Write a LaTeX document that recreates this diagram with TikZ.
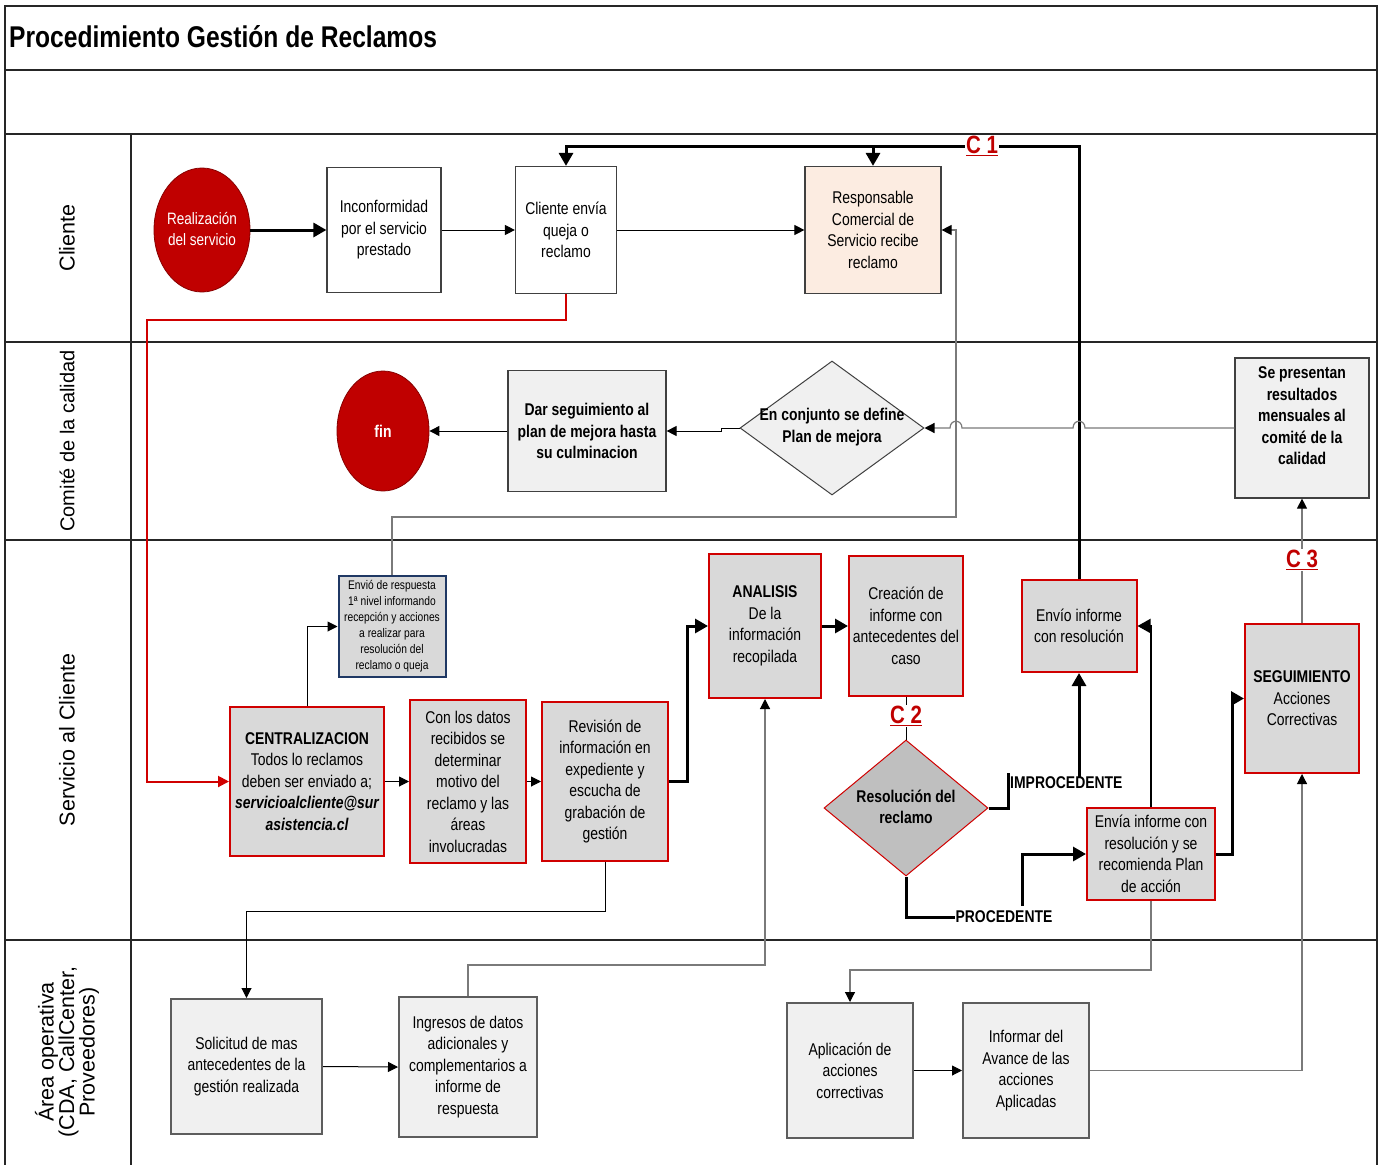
\documentclass[tikz,border=0pt]{standalone}
\usepackage{fontspec}
\setmainfont{Liberation Sans}
\newfontfamily\nar[FakeStretch=0.82]{Liberation Sans}
\usetikzlibrary{arrows.meta,shapes.geometric}
\definecolor{dred}{HTML}{C00000}
\definecolor{bred}{HTML}{D00000}
\definecolor{gfill}{HTML}{D9D9D9}
\definecolor{lfill}{HTML}{F0F0F0}
\definecolor{dfill}{HTML}{BFBFBF}
\definecolor{peach}{HTML}{FCECE1}
\definecolor{lgray}{HTML}{7A7A7A}
\definecolor{bord}{HTML}{404040}
\definecolor{navy}{HTML}{1F3864}
\begin{document}
\begin{tikzpicture}[x=1pt,y=-1pt,
  wh/.style 2 args={minimum width=#1pt, minimum height=#2pt},
  txt/.style={font=\nar\fontsize{17}{21.5}\selectfont, align=center, inner sep=0pt},
  txtb/.style={txt, font=\nar\bfseries\fontsize{17}{21.5}\selectfont},
  plainbox/.style={txt, draw=bord, line width=1.2pt, fill=white},
  peachbox/.style={txt, draw=bord, line width=1.2pt, fill=peach},
  combox/.style={txtb, draw=bord, line width=1.2pt, fill=lfill},
  opbox/.style={txt, draw=bord!85, line width=2pt, fill=lfill},
  redbox/.style={txt, draw=bred, line width=2pt, fill=gfill},
  term/.style={ellipse, draw=dred!70!black, line width=0.8pt, fill=dred, inner sep=0pt},
  lane/.style={font=\fontsize{21.5}{20.5}\selectfont, align=center, rotate=90, inner sep=0pt},
  clbl/.style={font=\nar\bfseries\fontsize{25}{26}\selectfont, text=dred, fill=white, inner sep=1pt},
  condlbl/.style={font=\nar\bfseries\fontsize{17}{18}\selectfont, inner sep=0pt},
  conn/.style={draw=black, line width=1pt},
  gconn/.style={draw=lgray, line width=1.2pt},
  thk/.style={draw=black, line width=3pt},
  arr/.style={-{Triangle[length=10pt,width=10pt,color=black]}},
  Arr/.style={-{Triangle[length=13pt,width=14pt,color=black]}},
  rarr/.style={-{Triangle[length=11pt,width=11pt,color=bred]}},
  frame/.style={draw=black!85, line width=1.5pt}
]
\useasboundingbox (0,0) rectangle (1383,1164);
\fill[white] (0,0) rectangle (1383,1164);

% ---- frame and lanes
\draw[frame] (5,6) rectangle (1377,1168);
\foreach \yy in {70,134,342,540,940}{\draw[frame] (5,\yy) -- (1377,\yy);}
\draw[frame] (131,134) -- (131,1168);

\node[anchor=west, font=\nar\bfseries\fontsize{30}{32}\selectfont, inner sep=0pt] (title) at (9,37) {Procedimiento Gestión de Reclamos};

\node[lane] (l1) at (67,238) {Cliente};
\node[lane, font=\fontsize{20}{21}\selectfont] (l2) at (67,441) {Comité de la calidad};
\node[lane] (l3) at (67,740) {Servicio al Cliente};
\node[lane] (l4) at (67,1052) {Área operativa\\(CDA, CallCenter,\\Proveedores)};

% ---- Cliente lane
\node[term, wh={96}{124}] (real) at (202,230) {};
\node[txt, text=white, font=\nar\fontsize{16.5}{21.5}\selectfont] (realt) at (202,229) {Realización\\del servicio};
\node[plainbox, wh={114}{125}] (inc) at (384,230) {Inconformidad\\por el servicio\\prestado};
\node[plainbox, wh={101}{127}] (cli) at (566,230) {Cliente envía\\queja o\\reclamo};
\node[peachbox, wh={136}{127}] (resp) at (873,230) {Responsable\\Comercial de\\Servicio recibe\\reclamo};

% ---- Comite lane
\node[term, wh={92}{120}] (fin) at (383,431) {};
\node[txtb, text=white] (fint) at (383,431) {fin};
\node[combox, wh={158}{121}] (dar) at (587,431) {Dar seguimiento al\\plan de mejora hasta\\su culminacion};
\node[diamond, draw=bord, line width=1pt, fill=lfill, wh={184}{134}, inner sep=0pt] (dia1) at (832,428) {};
\node[txtb] (dia1t) at (832,427) {En conjunto se define\\Plan de mejora};
\node[combox, wh={134}{140}] (sep) at (1302,428) {};
\node[txtb] (sept) at (1302,416) {Se presentan\\resultados\\mensuales al\\comité de la\\calidad};

% ---- Servicio lane
\node[txt, draw=navy, line width=2pt, fill=gfill, wh={107}{101}, font=\nar\fontsize{12.5}{16}\selectfont] (envi) at (392,626.5) {Envió de respuesta\\1ª nivel informando\\recepción y acciones\\a realizar para\\resolución del\\reclamo o queja};
\node[redbox, wh={154}{149}] (cent) at (307,781.5) {{\bfseries CENTRALIZACION}\\Todos lo reclamos\\deben ser enviado a;\\{\bfseries\itshape servicioalcliente@sur}\\{\bfseries\itshape asistencia.cl}};
\node[redbox, wh={116}{163}] (con) at (468,781.5) {Con los datos\\recibidos se\\determinar\\motivo del\\reclamo y las\\áreas\\involucradas};
\node[redbox, wh={126}{159}] (rev) at (605,781.5) {Revisión de\\información en\\expediente y\\escucha de\\grabación de\\gestión};
\node[redbox, wh={112}{144}] (ana) at (765,626) {{\bfseries ANALISIS}\\De la\\información\\recopilada};
\node[redbox, wh={114}{140}] (cre) at (906,626) {Creación de\\informe con\\antecedentes del\\caso};
\node[redbox, wh={115}{92}] (envio) at (1079,626) {Envío informe\\con resolución};
\node[diamond, draw=bred, line width=1pt, fill=dfill, wh={164}{136}, inner sep=0pt] (dia2) at (906,808) {};
\node[txtb] (dia2t) at (906,807) {Resolución del\\reclamo};
\node[redbox, wh={128}{92}] (envia) at (1151,854) {Envía informe con\\resolución y se\\recomienda Plan\\de acción};
\node[redbox, wh={114}{149}] (seg) at (1302,698.5) {{\bfseries SEGUIMIENTO}\\Acciones\\Correctivas};

% ---- Area operativa lane
\node[opbox, wh={151}{135}] (sol) at (246.5,1066.5) {Solicitud de mas\\antecedentes de la\\gestión realizada};
\node[opbox, wh={138}{140}] (ing) at (468,1067) {Ingresos de datos\\adicionales y\\complementarios a\\informe de\\respuesta};
\node[opbox, wh={126}{135}] (apl) at (850,1070.5) {Aplicación de\\acciones\\correctivas};
\node[opbox, wh={126}{135}] (inf) at (1026,1070.5) {Informar del\\Avance de las\\acciones\\Aplicadas};

% ---- connectors: Cliente
\draw[thk, Arr] (real.east) -- (inc.west);
\draw[conn, arr] (inc.east) -- (cli.west);
\draw[conn, arr] (cli.east) -- (resp.west);
\coordinate (r1) at (147,320);
\draw[draw=bred, line width=2pt, rarr] (cli.south) |- (r1) |- (cent.west);

% C1
\draw[thk, Arr] (envio.north) |- ([yshift=19pt]cli.north) -- (cli.north);
\draw[thk, Arr] ([yshift=19pt]resp.north) -- (resp.north);
\node[clbl] (c1) at (982,146) {\underline{C 1}};

% Envio de respuesta -> Responsable
\coordinate (g1) at (956,517);
\draw[gconn, arr] (envi.north) |- (g1) |- (resp.east);

% Se presentan -> diamond with hops
\draw[gconn, arr] (sep.west) -- (1085,428) .. controls (1085,419) and (1073,419) .. (1073,428)
  -- (962,428) .. controls (962,419) and (950,419) .. (950,428) -- (dia1.east);
\draw[conn, arr] (dia1.west) -- ++(-18,0) |- (dar.east);
\draw[conn, arr] (dar.west) -- (fin.east);

% Servicio
\draw[conn, arr] (cent.north) |- (envi.west);
\draw[conn, arr] (cent.east) -- (con.west);
\draw[conn, arr] (con.east) -- (rev.west);
\draw[thk, Arr] (rev.east) -- ++(18,0) |- (ana.west);
\draw[thk, Arr] (ana.east) -- (cre.west);
\draw[conn] (cre.south) -- (dia2.north);
\node[clbl] (c2) at (906,716) {\underline{C 2}};

\node[condlbl, anchor=west] (impro) at (1010,783) {IMPROCEDENTE};
\draw[thk] (dia2.east) -- ++(20,0) |- ([yshift=2pt]impro.north west);
\draw[thk, Arr] (envio.south |- impro.north) -- (envio.south);

\node[condlbl] (proc) at (1004,917) {PROCEDENTE};
\draw[thk] (dia2.south) |- (proc.west);
\coordinate (pv) at (1022,906);
\draw[thk, Arr] (pv) |- (envia.west);

\draw[thk, Arr] (envia.east) -- ++(16,0) |- (seg.west);
\draw[draw=black, line width=2pt, Arr] (envia.north) |- (envio.east);

\draw[gconn, arr] (seg.north) -- (sep.south);
\node[clbl] (c3) at (1302,560) {\underline{C 3}};

% to Area operativa
\draw[conn, arr] (rev.south) -- ++(0,49) -| (sol.north);
\draw[conn, arr] (sol.east) -- (ing.west);
\draw[gconn, arr] (ing.north) -- ++(0,-31) -| (ana.south);
\draw[gconn, arr] (envia.south) -- ++(0,69) -| (apl.north);
\draw[conn, arr] (apl.east) -- (inf.west);
\draw[gconn, arr] (inf.east) -| (seg.south);
\end{tikzpicture}
\end{document}
